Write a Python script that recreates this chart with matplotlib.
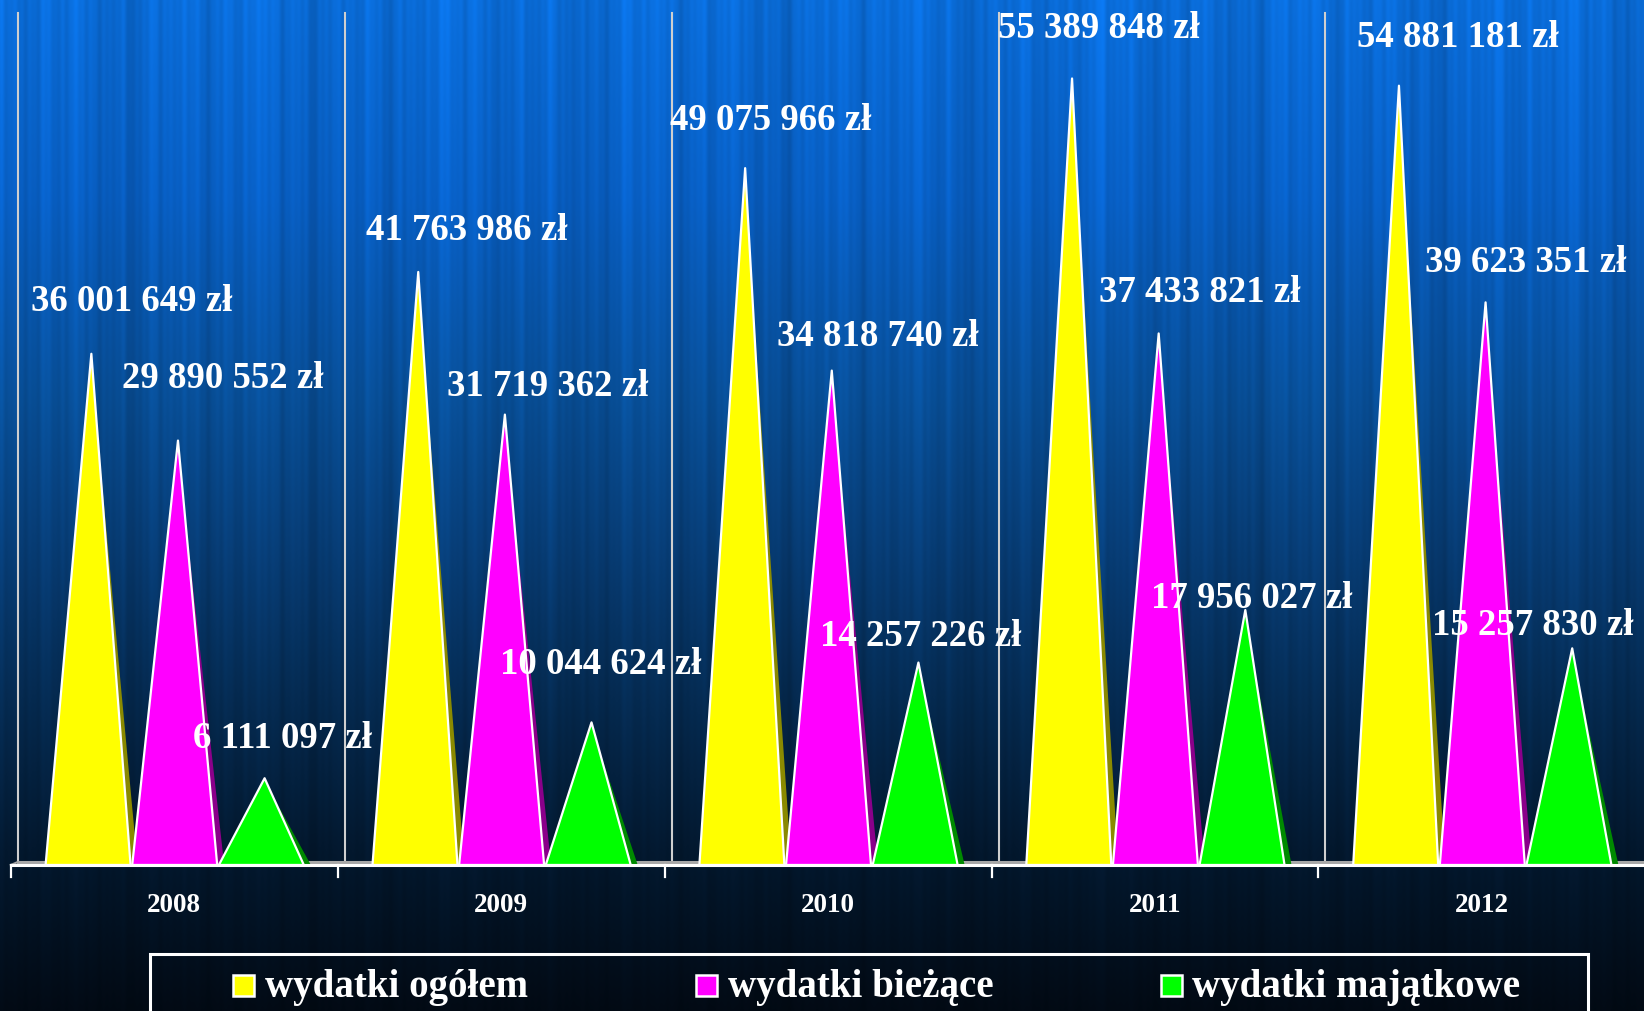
import numpy as np
import matplotlib
matplotlib.use("Agg")
import matplotlib.pyplot as plt
from matplotlib.patches import Polygon, Rectangle

# ---------------- data ----------------
years = ["2008", "2009", "2010", "2011", "2012"]
series_names = ["wydatki ogółem", "wydatki bieżące", "wydatki majątkowe"]
ogolem = [36001649, 41763986, 49075966, 55389848, 54881181]
biezace = [29890552, 31719362, 34818740, 37433821, 39623351]
majatkowe = [6111097, 10044624, 14257226, 17956027, 15257830]
series = [ogolem, biezace, majatkowe]

# ---------------- styles ----------------
colors = ["#ffff00", "#ff00ff", "#00ff00"]
side_colors = ["#8a8a00", "#8a008a", "#008a00"]
# label offsets (pixels) from apex to label centre: dx right, dy up
label_dx = [[40, 48, 26, 27, 59], [45, 43, 46, 41, 40], [18, 9, 2, 6, -39]]
label_dy = [[55, 44, 50, 52, 51], [65, 31, 37, 43, 42], [42, 60, 29, 14, 25]]

W, H = 1644, 1011
fig = plt.figure(figsize=(W / 100, H / 100), dpi=100)

# ---------------- background ----------------
bg = fig.add_axes([0, 0, 1, 1])
bg.set_axis_off()
stops_y = np.array([0, 200, 400, 550, 700, 850, 1011], dtype=float)
stops_c = np.array([
    [10, 108, 216],
    [8, 94, 194],
    [8, 78, 150],
    [7, 60, 116],
    [5, 42, 80],
    [3, 24, 46],
    [2, 10, 20],
], dtype=float) / 255.0
yy = np.arange(H, dtype=float)
col = np.stack([np.interp(yy, stops_y, stops_c[:, k]) for k in range(3)], axis=1)
xx = np.arange(W, dtype=float)
streak = (0.035 * np.sin(xx * 0.173 + 0.4) + 0.03 * np.sin(xx * 0.411 + 1.7)
          + 0.03 * np.sin(xx * 0.067 + 2.9) + 0.02 * np.sin(xx * 0.93 + 0.2)
          + 0.025 * np.sin(xx * 0.029 + 1.1) + 0.02 * np.sin(xx * 0.251 + 2.3)
          + 0.015 * np.sin(xx * 0.617 + 0.9))
img = col[:, None, :] * (1.0 + streak[None, :, None])
img = np.clip(img, 0, 1)
bg.imshow(img, aspect="auto", extent=[0, 1, 0, 1], origin="upper",
          interpolation="bilinear")
bg.set_xlim(0, 1)
bg.set_ylim(0, 1)

# ---------------- plot axes ----------------
PXX = 326.9          # pixels per category
PXY = 14.2e-6        # pixels per unit value
x0_px, base_px, top_px = 17.8, 865.0, 13.0
ax = fig.add_axes([x0_px / W, (H - base_px) / H, 5 * PXX / W,
                   (base_px - top_px) / H])
ax.set_xlim(0, 5)
ax.set_ylim(0, 60e6)
ax.set_axis_off()
ax.patch.set_visible(False)

floor_v = 3 / PXY
tick_dx = -7 / PXX

# gridlines
for i in range(6):
    ax.plot([i, i], [floor_v, 60e6], color="#cfcfcf", lw=1.5, clip_on=False,
            zorder=1)
# floor back edge
ax.plot([0, 5], [floor_v, floor_v], color="#a8a8a8", lw=2.2, clip_on=False,
        zorder=1)
ax.plot([tick_dx, 0], [0, floor_v], color="#a8a8a8", lw=1.5, clip_on=False,
        zorder=1)

# cones
FONT = "Liberation Serif"
for k, vals in enumerate(series):
    for i, v in enumerate(vals):
        left = i + 0.085 + k * 0.265
        right = left + 0.26
        apex = (left + right) / 2 + 0.01
        side = Polygon([(apex, v * 0.97), (right + 7 / PXX, 0), (right, 0)],
                       closed=True, facecolor=side_colors[k],
                       edgecolor="none", clip_on=False, zorder=3)
        ax.add_patch(side)
        tri = Polygon([(left, 0), (apex, v), (right, 0)], closed=True,
                      facecolor=colors[k], edgecolor="white", lw=1.6,
                      joinstyle="round", clip_on=False, zorder=4)
        ax.add_patch(tri)
        label = f"{v:,}".replace(",", " ") + " zł"
        ax.annotate(label, xy=(apex, v),
                    xytext=(label_dx[k][i], label_dy[k][i] - 12),
                    textcoords="offset pixels", ha="center", va="baseline",
                    fontsize=26.5, fontweight="bold", family=FONT,
                    color="white", annotation_clip=False, zorder=6)

# baseline and ticks
ax.plot([tick_dx, 5], [0, 0], color="white", lw=2.2, clip_on=False, zorder=5)
for i in range(6):
    ax.plot([i + tick_dx, i + tick_dx], [0, -12 / PXY], color="white", lw=1.6,
            clip_on=False, zorder=5)
for i, yr in enumerate(years):
    ax.text(i + 0.5 + tick_dx, -47 / PXY, yr, ha="center", va="baseline",
            fontsize=19.5, fontweight="bold", family=FONT, color="white",
            clip_on=False)

# ---------------- legend ----------------
tf = fig.transFigure
fig.patches.append(Rectangle((150 / W, -10 / H), 1438 / W, (H - 954 + 10) / H,
                             transform=tf, facecolor="none", edgecolor="white",
                             lw=2.2, zorder=10))
sq_x = [233, 696, 1161]
tx_x = [265, 728, 1192]
for k, name in enumerate(series_names):
    fig.patches.append(Rectangle((sq_x[k] / W, (H - 996) / H), 21 / W, 21 / H,
                                 transform=tf, facecolor=colors[k],
                                 edgecolor="white", lw=1.8, zorder=11))
    fig.text(tx_x[k] / W, (H - 997) / H, name, ha="left", va="baseline",
             fontsize=28, fontweight="bold", family=FONT, color="white",
             zorder=11)

fig.savefig("out.png", dpi=100)
